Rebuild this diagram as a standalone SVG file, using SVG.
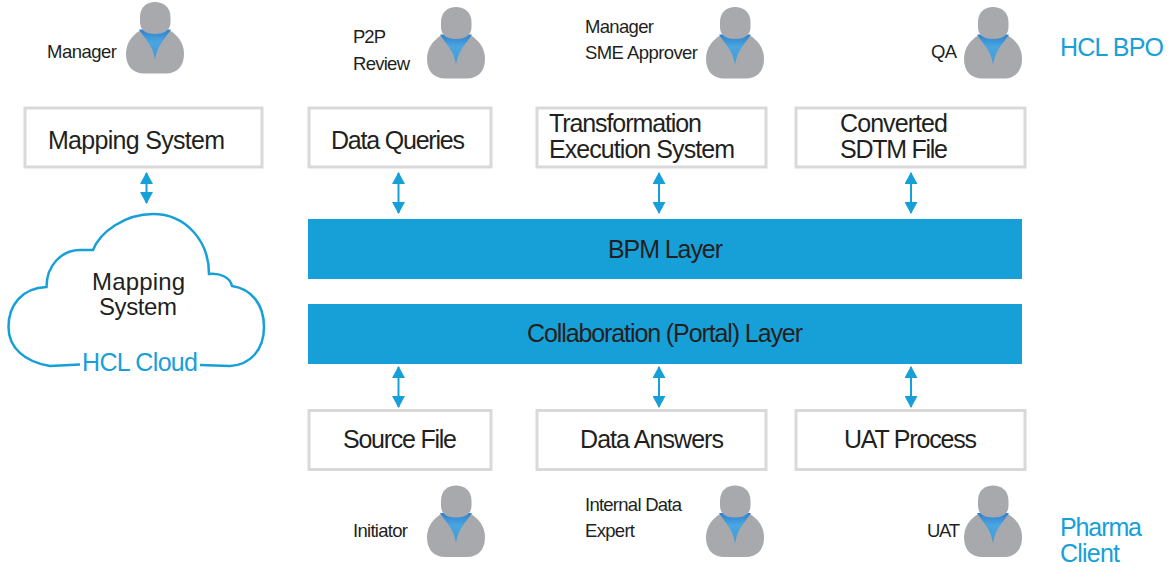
<svg xmlns="http://www.w3.org/2000/svg" width="1169" height="567" viewBox="0 0 1169 567">
<style>
text{font-family:"Liberation Sans",Arial,sans-serif;fill:#231f20}
.b{font-size:25px}
.m{font-size:24px}
.s{font-size:18.500px}
.c{font-size:25px;fill:#17a0d8}
.box{fill:#fff;stroke:#d9d9d9;stroke-width:3}
.bar{fill:#17a0d8}
.ln{stroke:#17a0d8;stroke-width:2;fill:none;marker-start:url(#a);marker-end:url(#a)}
</style>
<defs>
<marker id="a" markerUnits="userSpaceOnUse" markerWidth="14" markerHeight="13" refX="11" refY="6.500" orient="auto-start-reverse"><path d="M0 0L12 6.500L0 13Z" fill="#17a0d8"/></marker>
<linearGradient id="t" x1="0" y1="0" x2="0" y2="1"><stop offset="0" stop-color="#2f7fcf"/><stop offset=".4" stop-color="#4aa6e0"/><stop offset="1" stop-color="#3f9ad6"/></linearGradient>
<g id="p">
<path d="M0 52C0 40 7 33 14 28.500L44 28.500C51 33 58 40 58 52C58 65 50 71.500 40 71.500L18 71.500C8 71.500 0 65 0 52Z" fill="#a7a9ac"/>
<path d="M13 27.500C17 34 23 40 26 47C27.500 51 28.500 54 29 58C29.500 54 30.500 51 32 47C35 40 41 34 45 27.500Z" fill="url(#t)"/>
<path d="M14 15C14 5 21 0 29 0C37 0 44.500 5 44.500 15L44.500 20C44.500 28 39 32 29 32C19 32 14 28 14 20Z" fill="#a7a9ac"/>
</g>
</defs>
<rect width="1169" height="567" fill="#fff"/>
<g id="conn">
<path class="ln" d="M146.500 173V203"/>
<path class="ln" d="M398.500 173V213"/>
<path class="ln" d="M659 173V213"/>
<path class="ln" d="M911 173V213"/>
<path class="ln" d="M398.500 367V407"/>
<path class="ln" d="M659 367V407"/>
<path class="ln" d="M911 367V407"/>
</g>
<g id="person-manager"><use href="#p" x="126" y="2"/><text class="s" x="47" y="58" textLength="70">Manager</text></g>
<g id="person-p2p"><use href="#p" x="427" y="7"/><text class="s" x="353" y="43" textLength="33">P2P</text><text class="s" x="353" y="70" textLength="57">Review</text></g>
<g id="person-sme"><use href="#p" x="706" y="7"/><text class="s" x="585" y="33" textLength="69">Manager</text><text class="s" x="585" y="59" textLength="113">SME Approver</text></g>
<g id="person-qa"><use href="#p" x="964" y="7"/><text class="s" x="931" y="58" textLength="26">QA</text></g>
<g id="label-bpo"><text class="c" x="1060" y="56" textLength="104">HCL BPO</text></g>
<g id="mapping-system"><rect class="box" x="25" y="108" width="237" height="59"/><text class="b" x="48" y="149" textLength="177">Mapping System</text></g>
<g id="data-queries"><rect class="box" x="309" y="108" width="182" height="59"/><text class="b" x="331" y="149" textLength="134">Data Queries</text></g>
<g id="transformation"><rect class="box" x="537" y="108" width="229" height="59"/><text class="b" x="549" y="132" textLength="153">Transformation</text><text class="b" x="549" y="158" textLength="186">Execution System</text></g>
<g id="sdtm"><rect class="box" x="796" y="108" width="229" height="59"/><text class="b" x="840" y="132" textLength="108">Converted</text><text class="b" x="840" y="158" textLength="108">SDTM File</text></g>
<g id="cloud"><path d="M80 364.500L50 366C25 362 8.500 348 8.500 327C8.500 305 22 288 46.500 287C46.500 265 62 250 80 250L93 250C100 232 125 214 153 214C185 214 209 240 209 274C220 273 230 277 232 286C252 289 264 305 264 327C264 350 250 365 230 366L200 365" fill="none" stroke="#17a0d8" stroke-width="2.500"/>
<text class="m" x="92" y="290" textLength="93">Mapping</text><text class="m" x="99" y="315" textLength="78">System</text>
<text class="c" x="82" y="371" textLength="116">HCL Cloud</text></g>
<g id="bpm"><rect class="bar" x="308" y="219" width="714" height="60"/><text class="b" x="608" y="258" textLength="115">BPM Layer</text></g>
<g id="portal"><rect class="bar" x="308" y="304" width="714" height="60"/><text class="b" x="527" y="342" textLength="276">Collaboration (Portal) Layer</text></g>
<g id="source"><rect class="box" x="309" y="410.500" width="182" height="59"/><text class="b" x="343" y="448" textLength="114">Source File</text></g>
<g id="answers"><rect class="box" x="537" y="410.500" width="229" height="59"/><text class="b" x="580" y="448" textLength="144">Data Answers</text></g>
<g id="uat-process"><rect class="box" x="796" y="410.500" width="229" height="59"/><text class="b" x="844" y="448" textLength="133">UAT Process</text></g>
<g id="person-initiator"><use href="#p" x="427" y="485.500"/><text class="s" x="353" y="537" textLength="55">Initiator</text></g>
<g id="person-expert"><use href="#p" x="706" y="485.500"/><text class="s" x="585" y="511" textLength="97">Internal Data</text><text class="s" x="585" y="537" textLength="50">Expert</text></g>
<g id="person-uat"><use href="#p" x="964" y="485.500"/><text class="s" x="927" y="537" textLength="33">UAT</text></g>
<g id="label-pharma"><text class="c" x="1060" y="536" textLength="82">Pharma</text><text class="c" x="1060" y="562" textLength="60">Client</text></g>
</svg>
